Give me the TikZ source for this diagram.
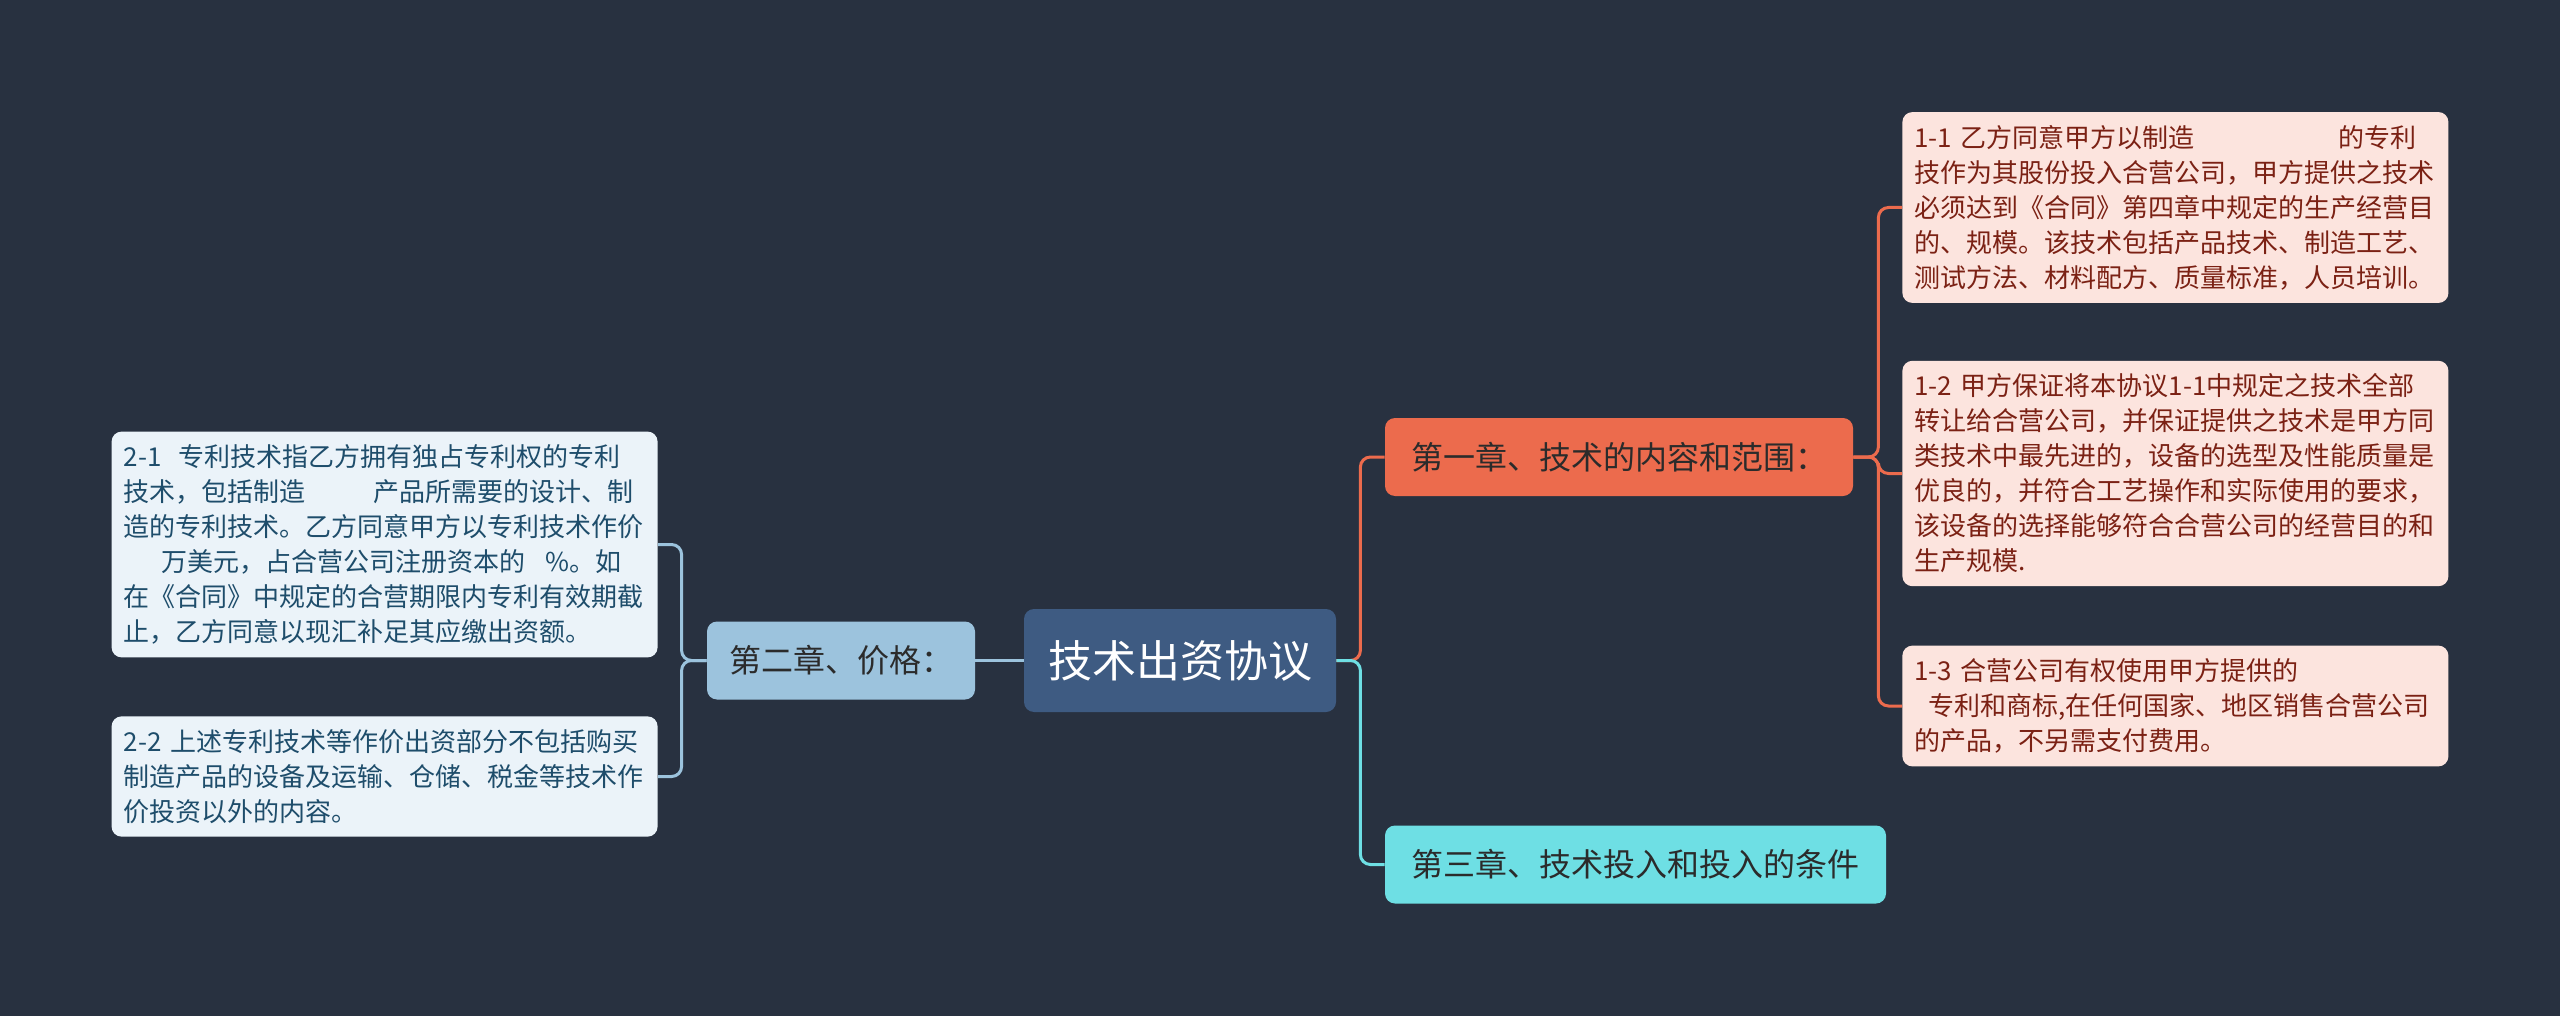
\documentclass[tikz,border=0pt]{standalone}
\usepackage{fontspec}
\setmainfont{Noto Sans CJK SC}
\usepackage{tikz}
\usetikzlibrary{positioning}
\definecolor{bgdark}{HTML}{283140}
\definecolor{rootblue}{HTML}{3E5B82}
\definecolor{chorange}{HTML}{EC6B4D}
\definecolor{chcyan}{HTML}{6EDFE4}
\definecolor{chblue}{HTML}{9CC3DD}
\definecolor{leafpink}{HTML}{FCE4DE}
\definecolor{leafice}{HTML}{EBF3F9}
\definecolor{inkred}{HTML}{7B2114}
\definecolor{inkblue}{HTML}{1E4D6B}
\definecolor{inkdark}{HTML}{2B2B2B}

\begin{document}
\begin{tikzpicture}[
  x=0.5pt, y=-0.5pt,
  every node/.style={font=\fontsize{13}{17.5}\selectfont},
  topic/.style={rectangle, rounded corners=5pt, fill=rootblue, text=white,
                font=\fontsize{22}{26}\selectfont, minimum width=156pt, minimum height=51.5pt, inner sep=0pt},
  chapter/.style={rectangle, rounded corners=5pt, text=inkdark, font=\fontsize{16}{20}\selectfont,
                  minimum height=39pt, inner xsep=11pt, inner ysep=0pt},
  leafr/.style={rectangle, rounded corners=5pt, fill=leafpink, text=inkred, text width=261pt,
                align=left, inner xsep=6pt, inner ysep=6.5pt, anchor=west},
  leafl/.style={rectangle, rounded corners=5pt, fill=leafice, text=inkblue, text width=261pt,
                align=left, inner xsep=6pt, inner ysep=6.5pt, anchor=east},
  link/.style={line width=1.5pt, rounded corners=5pt}
]
  \useasboundingbox[fill=bgdark] (0,0) rectangle (2560,1016);

  % centre and chapters
  \node[topic] (root) at (1180,660.5) {技术出资协议};
  \node[chapter, fill=chblue, minimum width=134pt] (price) at (841,660.5) {第二章、价格：};
  \node[chapter, fill=chorange, minimum width=234pt] (scope) at (1619,457) {第一章、技术的内容和范围：};
  \node[chapter, fill=chcyan, minimum width=250.5pt] (terms) at (1635.5,864.5) {第三章、技术投入和投入的条件};

  % right leaves
  \node[leafr] (a1) at (1902,207.5) {%
    1-1~乙方同意甲方以制造\hspace*{72pt}的专利\\
    技作为其股份投入合营公司，甲方提供之技术\\
    必须达到《合同》第四章中规定的生产经营目\\
    的、规模。该技术包括产品技术、制造工艺、\\
    测试方法、材料配方、质量标准，人员培训。};
  \node[leafr] (a2) at (1902,473.5) {%
    1-2~甲方保证将本协议1-1中规定之技术全部\\
    转让给合营公司，并保证提供之技术是甲方同\\
    类技术中最先进的，设备的选型及性能质量是\\
    优良的，并符合工艺操作和实际使用的要求，\\
    该设备的选择能够符合合营公司的经营目的和\\
    生产规模.};
  \node[leafr] (a3) at (1902,706) {%
    1-3~合营公司有权使用甲方提供的\\
    \hspace*{7pt}专利和商标,在任何国家、地区销售合营公司\\
    的产品，不另需支付费用。};

  % left leaves
  \node[leafl] (b1) at (658,544.5) {%
    2-1~~专利技术指乙方拥有独占专利权的专利\\
    技术，包括制造\hspace*{34pt}产品所需要的设计、制\\
    造的专利技术。乙方同意甲方以专利技术作价\\
    \hspace*{19pt}万美元，占合营公司注册资本的\hspace*{10pt}\%。如\\
    在《合同》中规定的合营期限内专利有效期截\\
    止，乙方同意以现汇补足其应缴出资额。};
  \node[leafl] (b2) at (658,776.5) {%
    2-2~上述专利技术等作价出资部分不包括购买\\
    制造产品的设备及运输、仓储、税金等技术作\\
    价投资以外的内容。};

  % connectors
  \draw[link, chorange] (root.east) -- ++(12pt,0) |- (scope.west);
  \draw[link, chcyan] (root.east) -- ++(12pt,0) |- (terms.west);
  \draw[link, chblue] (root.west) -- (price.east);
  \foreach \leaf in {a1,a2,a3}
    \draw[link, chorange] (scope.east) -- ++(12.5pt,0) |- (\leaf.west);
  \foreach \leaf in {b1,b2}
    \draw[link, chblue] (price.west) -- ++(-12.5pt,0) |- (\leaf.east);
\end{tikzpicture}
\end{document}
